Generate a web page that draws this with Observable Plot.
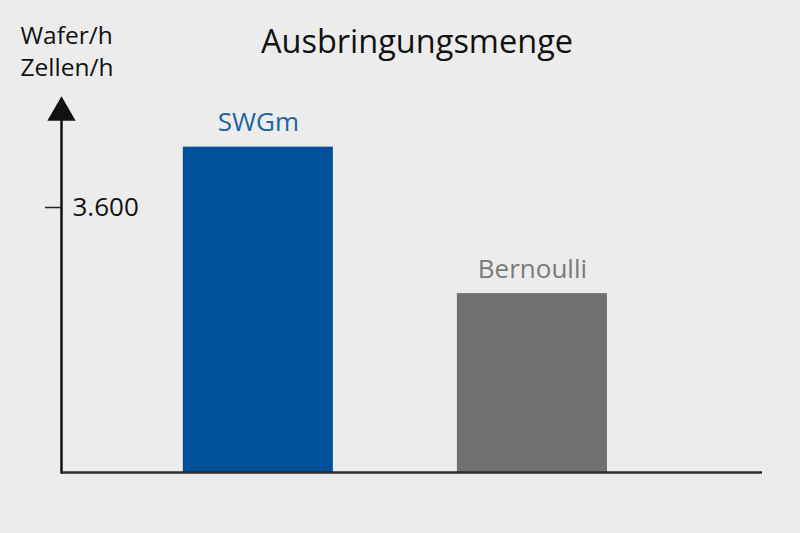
<!DOCTYPE html>
<html>
<head>
<meta charset="utf-8">
<script src="https://cdn.jsdelivr.net/npm/d3@7"></script>
<script src="https://cdn.jsdelivr.net/npm/@observablehq/plot@0.6"></script>
<style>
  html, body { margin: 0; padding: 0; background: #ececec; }
  #chart svg { display: block; }
</style>
</head>
<body>
<div id="chart"></div>
<script>
const categories = ["SWGm", "Bernoulli"];
const values = [4420, 2430];
const barColors = ["#00519a", "#6f7072"];
const labelColors = ["#1d63a6", "#7a7a7a"];
const tickValues = [3600];
const tickLabels = ["3.600"];
const title = "Ausbringungsmenge";
const yLabel = ["Wafer/h", "Zellen/h"];

const data = categories.map((c, i) => ({cat: c, value: values[i], fill: barColors[i], lc: labelColors[i]}));
const font = "'Open Sans', 'Noto Sans', sans-serif";

const chart = Plot.plot({
  width: 800,
  height: 533,
  marginLeft: 61,
  marginRight: 38,
  marginTop: 103,
  marginBottom: 61,
  style: {background: "#ececec", fontFamily: font, overflow: "visible"},
  x: {domain: categories, paddingInner: 0.4526, paddingOuter: 0.505, align: 0.44, round: false, axis: null, label: null},
  y: {domain: [0, 5013], axis: null, label: null},
  marks: [
    Plot.barY(data, {x: "cat", y: "value", fill: "fill"}),
    Plot.text(data, {x: "cat", y: "value", text: "cat", fill: "lc", dy: -16, lineAnchor: "bottom", fontSize: 26}),
    // y axis line
    Plot.frame({anchor: "left", stroke: "#111", strokeWidth: 2.5}),
    // arrow head
    Plot.dot([5013], {y: d => d, frameAnchor: "left", symbol: "triangle", r: 10.5, fill: "#111", stroke: "none", dy: 9}),
    // x axis line
    Plot.ruleY([0], {stroke: "#2b2b2b", strokeWidth: 2.5}),
    // tick
    Plot.axisY({ticks: tickValues, tickSize: 16, tickFormat: () => "", label: null, stroke: "#222", strokeWidth: 1.5}),
    Plot.text(tickValues, {y: d => d, text: (d, i) => tickLabels[i], frameAnchor: "left", dx: 11, textAnchor: "start", fontSize: 26, fill: "#111"}),
    // title
    Plot.text([title], {frameAnchor: "top", dx: 5, dy: -51, lineAnchor: "bottom", text: d => d, fontSize: 32.5, fontWeight: 500, fill: "#111"}),
    // y label
    Plot.text([yLabel.join("\n")], {frameAnchor: "top-left", dx: -41, dy: -82, lineAnchor: "top", textAnchor: "start", text: d => d, fontSize: 24.5, lineHeight: 1.3, fill: "#111"})
  ]
});
document.getElementById("chart").appendChild(chart);
</script>
</body>
</html>
